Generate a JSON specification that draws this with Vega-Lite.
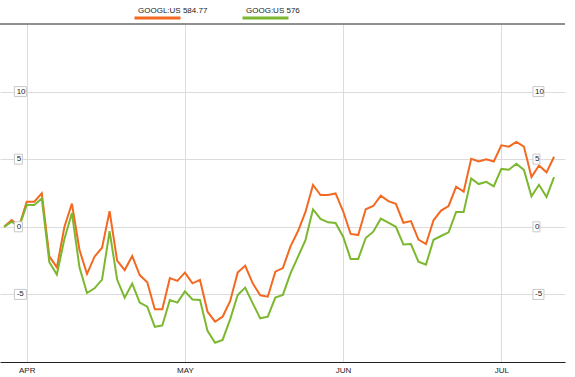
{
  "$schema": "https://vega.github.io/schema/vega-lite/v6.json",
  "width": 565,
  "height": 338,
  "autosize": {"type": "none"},
  "padding": {"left": 0, "top": 24, "right": 10, "bottom": 15},
  "background": "#ffffff",
  "config": {
    "view": {"stroke": null},
    "font": "Liberation Sans"
  },
  "datasets": {
    "prices": [
      {"d": "2014-03-27", "GOOGL": 0, "GOOG": 0},
      {"d": "2014-03-28", "GOOGL": 0.5, "GOOG": 0.38},
      {"d": "2014-03-31", "GOOGL": 0.05, "GOOG": 0.0},
      {"d": "2014-04-01", "GOOGL": 1.86, "GOOG": 1.61},
      {"d": "2014-04-02", "GOOGL": 1.86, "GOOG": 1.61},
      {"d": "2014-04-03", "GOOGL": 2.48, "GOOG": 2.1},
      {"d": "2014-04-04", "GOOGL": -2.18, "GOOG": -2.62},
      {"d": "2014-04-07", "GOOGL": -3.0, "GOOG": -3.53},
      {"d": "2014-04-08", "GOOGL": -0.02, "GOOG": -0.9},
      {"d": "2014-04-09", "GOOGL": 1.72, "GOOG": 1.02},
      {"d": "2014-04-10", "GOOGL": -1.7, "GOOG": -3.0},
      {"d": "2014-04-11", "GOOGL": -3.49, "GOOG": -4.9},
      {"d": "2014-04-14", "GOOGL": -2.21, "GOOG": -4.55},
      {"d": "2014-04-15", "GOOGL": -1.55, "GOOG": -3.9},
      {"d": "2014-04-16", "GOOGL": 1.15, "GOOG": -0.33},
      {"d": "2014-04-17", "GOOGL": -2.5, "GOOG": -3.9},
      {"d": "2014-04-21", "GOOGL": -3.2, "GOOG": -5.24},
      {"d": "2014-04-22", "GOOGL": -2.16, "GOOG": -4.2},
      {"d": "2014-04-23", "GOOGL": -3.57, "GOOG": -5.6},
      {"d": "2014-04-24", "GOOGL": -4.1, "GOOG": -5.91},
      {"d": "2014-04-25", "GOOGL": -6.1, "GOOG": -7.4},
      {"d": "2014-04-28", "GOOGL": -6.1, "GOOG": -7.3},
      {"d": "2014-04-29", "GOOGL": -3.8, "GOOG": -5.41},
      {"d": "2014-04-30", "GOOGL": -4.0, "GOOG": -5.61},
      {"d": "2014-05-01", "GOOGL": -3.39, "GOOG": -4.78},
      {"d": "2014-05-02", "GOOGL": -4.18, "GOOG": -5.38},
      {"d": "2014-05-05", "GOOGL": -3.93, "GOOG": -5.41},
      {"d": "2014-05-06", "GOOGL": -6.28, "GOOG": -7.7},
      {"d": "2014-05-07", "GOOGL": -7.02, "GOOG": -8.57},
      {"d": "2014-05-08", "GOOGL": -6.65, "GOOG": -8.37},
      {"d": "2014-05-09", "GOOGL": -5.5, "GOOG": -6.85},
      {"d": "2014-05-12", "GOOGL": -3.39, "GOOG": -5.04},
      {"d": "2014-05-13", "GOOGL": -2.88, "GOOG": -4.5},
      {"d": "2014-05-14", "GOOGL": -4.18, "GOOG": -5.66},
      {"d": "2014-05-15", "GOOGL": -5.07, "GOOG": -6.77},
      {"d": "2014-05-16", "GOOGL": -5.17, "GOOG": -6.65},
      {"d": "2014-05-19", "GOOGL": -3.32, "GOOG": -5.24},
      {"d": "2014-05-20", "GOOGL": -3.05, "GOOG": -5.04},
      {"d": "2014-05-21", "GOOGL": -1.47, "GOOG": -3.46},
      {"d": "2014-05-22", "GOOGL": -0.33, "GOOG": -2.23},
      {"d": "2014-05-23", "GOOGL": 1.1, "GOOG": -0.98},
      {"d": "2014-05-27", "GOOGL": 3.09, "GOOG": 1.29},
      {"d": "2014-05-28", "GOOGL": 2.35, "GOOG": 0.58},
      {"d": "2014-05-29", "GOOGL": 2.35, "GOOG": 0.33},
      {"d": "2014-05-30", "GOOGL": 2.47, "GOOG": 0.28},
      {"d": "2014-06-02", "GOOGL": 1.15, "GOOG": -0.73},
      {"d": "2014-06-03", "GOOGL": -0.53, "GOOG": -2.38},
      {"d": "2014-06-04", "GOOGL": -0.61, "GOOG": -2.38},
      {"d": "2014-06-05", "GOOGL": 1.3, "GOOG": -0.83},
      {"d": "2014-06-06", "GOOGL": 1.54, "GOOG": -0.36},
      {"d": "2014-06-09", "GOOGL": 2.3, "GOOG": 0.6},
      {"d": "2014-06-10", "GOOGL": 1.9, "GOOG": 0.3},
      {"d": "2014-06-11", "GOOGL": 1.7, "GOOG": 0.0},
      {"d": "2014-06-12", "GOOGL": 0.3, "GOOG": -1.3},
      {"d": "2014-06-13", "GOOGL": 0.42, "GOOG": -1.28},
      {"d": "2014-06-16", "GOOGL": -0.95, "GOOG": -2.58},
      {"d": "2014-06-17", "GOOGL": -1.28, "GOOG": -2.8},
      {"d": "2014-06-18", "GOOGL": 0.48, "GOOG": -0.96},
      {"d": "2014-06-19", "GOOGL": 1.2, "GOOG": -0.68},
      {"d": "2014-06-20", "GOOGL": 1.54, "GOOG": -0.41},
      {"d": "2014-06-23", "GOOGL": 2.96, "GOOG": 1.1},
      {"d": "2014-06-24", "GOOGL": 2.6, "GOOG": 1.1},
      {"d": "2014-06-25", "GOOGL": 5.03, "GOOG": 3.58},
      {"d": "2014-06-26", "GOOGL": 4.83, "GOOG": 3.16},
      {"d": "2014-06-27", "GOOGL": 5.0, "GOOG": 3.33},
      {"d": "2014-06-30", "GOOGL": 4.83, "GOOG": 3.0},
      {"d": "2014-07-01", "GOOGL": 6.03, "GOOG": 4.28},
      {"d": "2014-07-02", "GOOGL": 5.93, "GOOG": 4.22},
      {"d": "2014-07-03", "GOOGL": 6.28, "GOOG": 4.66},
      {"d": "2014-07-07", "GOOGL": 5.93, "GOOG": 4.21},
      {"d": "2014-07-08", "GOOGL": 3.68, "GOOG": 2.25},
      {"d": "2014-07-09", "GOOGL": 4.53, "GOOG": 3.11},
      {"d": "2014-07-10", "GOOGL": 4.03, "GOOG": 2.2},
      {"d": "2014-07-11", "GOOGL": 5.18, "GOOG": 3.68}
    ],
    "ticks": [
      {"v": 10, "label": "10"},
      {"v": 5, "label": "5"},
      {"v": 0, "label": "0"},
      {"v": -5, "label": "-5"}
    ]
  },
  "layer": [
    {
      "data": {"name": "prices"},
      "transform": [{"fold": ["GOOGL", "GOOG"], "as": ["ticker", "change"]}],
      "mark": {"type": "line", "strokeWidth": 2, "strokeJoin": "miter"},
      "encoding": {
        "x": {
          "field": "d", "type": "ordinal",
          "scale": {"type": "point", "padding": 1.704, "align": 0.274},
          "axis": {
            "values": ["2014-04-01", "2014-05-01", "2014-06-02", "2014-07-01"],
            "labelExpr": "upper(utcFormat(toDate(datum.value), '%b'))",
            "title": null, "ticks": false, "domainColor": "#222222", "domainWidth": 1,
            "grid": true, "gridColor": "#dcdcdc", "gridWidth": 1,
            "labelFontSize": 8, "labelFont": "Liberation Sans", "labelColor": "#222222",
            "labelPadding": 4, "labelAngle": 0, "labelOverlap": false
          }
        },
        "y": {
          "field": "change", "type": "quantitative",
          "scale": {"domain": [-10, 15], "nice": false, "zero": false},
          "axis": {"values": [-5, 0, 5, 10], "grid": true, "gridColor": "#dcdcdc", "labels": false, "ticks": false, "domain": false, "title": null}
        },
        "color": {
          "field": "ticker", "type": "nominal",
          "scale": {"domain": ["GOOGL", "GOOG"], "range": ["#f26a21", "#7cb82f"]},
          "legend": {
            "orient": "none", "legendX": 133, "legendY": -25, "direction": "horizontal",
            "title": null,
            "symbolType": "M-1,0.75L3.6,0.75",
            "symbolSize": 400, "symbolStrokeWidth": 3, "symbolFillColor": "transparent",
            "labelOffset": -18, "columnPadding": 28,
            "labelFontSize": 8, "labelFont": "Liberation Sans", "labelColor": "#222222",
            "labelExpr": "datum.label == 'GOOGL' ? 'GOOGL:US 584.77' : 'GOOG:US 576'"
          }
        }
      }
    },
    {
      "data": {"values": [{"top": 15}]},
      "mark": {"type": "rule", "color": "#222222", "strokeWidth": 1},
      "encoding": {
        "y": {"field": "top", "type": "quantitative", "scale": {"domain": [-10, 15], "nice": false, "zero": false}}
      }
    },
    {
      "data": {"name": "ticks"},
      "mark": {"type": "point", "filled": true, "fill": "#ffffff", "stroke": "#c8c8c8", "strokeWidth": 1, "opacity": 1, "size": 100},
      "encoding": {
        "x": {"datum": "2014-03-28", "type": "ordinal"},
        "y": {"field": "v", "type": "quantitative", "scale": {"domain": [-10, 15], "nice": false, "zero": false}},
        "shape": {
          "condition": {"test": "length(datum.label) > 1", "value": "M0.54,-1L2.94,-1L2.94,1L0.54,1Z"},
          "value": "M0.54,-1L2.14,-1L2.14,1L0.54,1Z"
        }
      }
    },
    {
      "data": {"name": "ticks"},
      "mark": {"type": "text", "align": "left", "baseline": "middle", "dx": 5, "fontSize": 8, "font": "Liberation Sans", "color": "#222222"},
      "encoding": {
        "x": {"datum": "2014-03-28", "type": "ordinal"},
        "y": {"field": "v", "type": "quantitative", "scale": {"domain": [-10, 15], "nice": false, "zero": false}},
        "text": {"field": "label"}
      }
    },
    {
      "data": {"name": "ticks"},
      "mark": {"type": "point", "filled": true, "fill": "#ffffff", "stroke": "#c8c8c8", "strokeWidth": 1, "opacity": 1, "size": 100},
      "encoding": {
        "x": {"datum": "2014-07-08", "type": "ordinal"},
        "y": {"field": "v", "type": "quantitative", "scale": {"domain": [-10, 15], "nice": false, "zero": false}},
        "shape": {
          "condition": {"test": "length(datum.label) > 1", "value": "M0.3,-1L2.5,-1L2.5,1L0.3,1Z"},
          "value": "M0.3,-1L1.7,-1L1.7,1L0.3,1Z"
        }
      }
    },
    {
      "data": {"name": "ticks"},
      "mark": {"type": "text", "align": "left", "baseline": "middle", "dx": 3.5, "fontSize": 8, "font": "Liberation Sans", "color": "#222222"},
      "encoding": {
        "x": {"datum": "2014-07-08", "type": "ordinal"},
        "y": {"field": "v", "type": "quantitative", "scale": {"domain": [-10, 15], "nice": false, "zero": false}},
        "text": {"field": "label"}
      }
    }
  ]
}
